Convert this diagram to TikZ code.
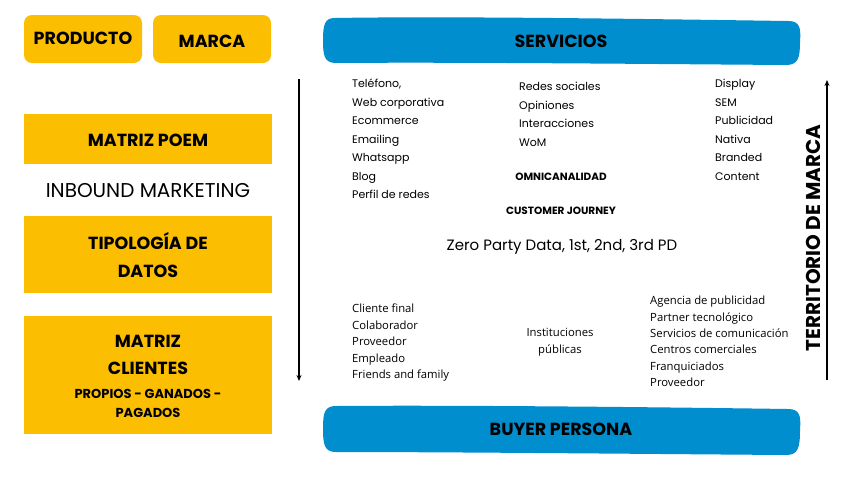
\documentclass[tikz,border=0pt]{standalone}
\usepackage{fontspec}
\setmainfont{Poppins}
\newfontfamily\hdfont{Poppins}[UprightFont=* Bold]
\newfontfamily\opfont{Open Sans}
\usetikzlibrary{arrows.meta}
\definecolor{gold}{RGB}{251,190,0}
\definecolor{sky}{RGB}{0,142,206}
\tikzset{
  ybox/.style={fill=gold, draw=none},
  hd/.style={font=\hdfont\fontsize{17.5}{20}\selectfont, text=black, align=center, inner sep=0pt},
  lst/.style={font=\fontsize{11}{18.5}\selectfont, align=left, anchor=north west, inner sep=0pt},
  lstb/.style={font=\opfont\fontsize{11.3}{16.4}\selectfont, align=left, anchor=north west, inner sep=0pt},
  axis/.style={line width=1.3pt, -{Stealth[length=6pt,width=5pt]}},
}
\begin{document}
\begin{tikzpicture}[x=1pt,y=-1pt]
\useasboundingbox (0,0) rectangle (848,477);
\fill[white] (0,0) rectangle (848,477);
% left yellow boxes
\fill[ybox, rounded corners=8pt] (24,15) rectangle (142,63);
\node[hd] (prod) at (83,38) {PRODUCTO};
\fill[ybox, rounded corners=8pt] (153,15) rectangle (271,63);
\node[hd] (marca) at (212,41) {MARCA};
\fill[ybox] (24,114) rectangle (272,164);
\node[hd] (poem) at (148,140) {MATRIZ POEM};
\node[font=\fontsize{20}{22}\selectfont, inner sep=0pt] (inbound) at (148,191) {INBOUND MARKETING};
\fill[ybox] (24,216) rectangle (272,293);
\node[hd, font=\hdfont\fontsize{17.5}{28}\selectfont] (tipo) at (148,255) {TIPOLOGÍA DE\\DATOS};
\fill[ybox] (24,316) rectangle (272,434);
\node[hd, font=\hdfont\fontsize{17.5}{27}\selectfont] (mclient) at (148,355) {MATRIZ\\CLIENTES};
\node[hd, font=\hdfont\fontsize{13}{19}\selectfont] (propios) at (148,403) {PROPIOS - GANADOS -\\PAGADOS};
% blue bars
\fill[sky] (335,18) .. controls (450,16) and (650,19) .. (788,21)
  .. controls (800,21) and (801,28) .. (800,42)
  .. controls (800,58) and (798,65) .. (786,65)
  .. controls (650,64) and (450,62) .. (336,63)
  .. controls (324,63) and (323,55) .. (323,40)
  .. controls (323,24) and (325,18) .. (335,18) -- cycle;
\node[hd] (serv) at (561,41) {SERVICIOS};
\fill[sky] (336,406) .. controls (450,405) and (650,407) .. (788,409)
  .. controls (800,409) and (801,416) .. (800,430)
  .. controls (800,448) and (798,455) .. (786,455)
  .. controls (650,454) and (450,452) .. (336,452)
  .. controls (324,452) and (323,444) .. (323,428)
  .. controls (323,412) and (325,406) .. (336,406) -- cycle;
\node[hd] (buyer) at (561,429) {BUYER PERSONA};
% axes
\coordinate (dtop) at (299,79);
\coordinate (dbot) at (299,381);
\draw[axis] (dtop) -- (dbot);
\coordinate (ubot) at (827,380);
\coordinate (utop) at (827,80);
\draw[axis] (ubot) -- (utop);
\node[hd, rotate=90, font=\hdfont\fontsize{20}{22}\selectfont] (terr) at (813,238) {TERRITORIO DE MARCA};
% lists
\node[lst] (c1) at (352,79) {Teléfono,\\Web corporativa\\Ecommerce\\Emailing\\Whatsapp\\Blog\\Perfil de redes};
\node[lst] (c2) at (519,82) {Redes sociales\\Opiniones\\Interacciones\\WoM};
\node[lst] (c3) at (715,79) {Display\\SEM\\Publicidad\\Nativa\\Branded\\Content};
\node[hd, font=\hdfont\fontsize{10.5}{12}\selectfont] (omni) at (561,177) {OMNICANALIDAD};
\node[hd, font=\hdfont\fontsize{10.5}{12}\selectfont] (cj) at (561,211) {CUSTOMER JOURNEY};
\node[font=\fontsize{15}{17}\selectfont, inner sep=0pt] (zero) at (562,247) {Zero Party Data, 1st, 2nd, 3rd PD};
\node[lstb] (b1) at (352,304) {Cliente final\\Colaborador\\Proveedor\\Empleado\\Friends and family};
\node[font=\opfont\fontsize{11.3}{17}\selectfont, align=center, inner sep=0pt] (inst) at (560,342) {Instituciones\\públicas};
\node[lstb] (b3) at (650,296) {Agencia de publicidad\\Partner tecnológico\\Servicios de comunicación\\Centros comerciales\\Franquiciados\\Proveedor};
\end{tikzpicture}
\end{document}
